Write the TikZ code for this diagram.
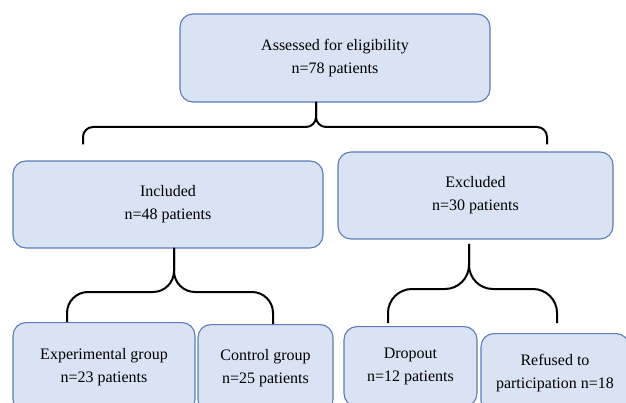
\documentclass[tikz,border=0pt]{standalone}
\usepackage{fontspec}
\setmainfont{Liberation Serif}
\definecolor{boxfill}{HTML}{DAE3F3}
\definecolor{boxline}{HTML}{5A7DBA}
\usepackage{tikz}
\usetikzlibrary{positioning,calc}

\begin{document}
\begin{tikzpicture}[
    x=1pt,y=-1pt,
    box/.style={draw=boxline,line width=1.1pt,rounded corners=13pt,fill=boxfill,
                inner sep=0pt,font={\fontsize{16}{23}\selectfont},align=center},
    brace/.style={draw=black,line width=2pt}
  ]
    \clip (0,0) rectangle (626,403);
    \node[box,minimum width=310pt,minimum height=88pt] (assess) at (335,58)
      {Assessed for eligibility\\n=78 patients};
    \node[box,minimum width=310pt,minimum height=87pt] (incl) at (168,204.5)
      {Included\\n=48 patients};
    \node[box,minimum width=275pt,minimum height=87pt] (excl) at (475.5,195.5)
      {Excluded\\n=30 patients};
    \node[box,anchor=north,minimum width=182pt,minimum height=90pt] (exp) at (104,322)
      {Experimental group\\n=23 patients};
    \node[box,anchor=north,minimum width=135pt,minimum height=88pt] (ctrl) at (265.5,324)
      {Control group\\n=25 patients};
    \node[box,anchor=north,minimum width=133pt,minimum height=80pt] (drop) at (410.5,326)
      {Dropout\\n=12 patients};
    \node[box,anchor=north,minimum width=148pt,minimum height=80pt] (refu) at (555,333)
      {Refused to\\participation n=18};
    % brace tips
    \coordinate (top) at (316,102);
    \coordinate (inc) at (174,248);
    \coordinate (exc) at (469,244);
    \draw[brace,rounded corners=10pt] (incl.north -| 83,0) ++(0,-16) |- (top |- 0,127) -- (top);
    \draw[brace,rounded corners=10pt] (top) -- (top |- 0,127) -| ($(excl.north -| 547,0)+(0,-7)$);
    \draw[brace,rounded corners=21pt] (exp.north -| 67,0) |- (inc |- 0,292) -- (inc);
    \draw[brace,rounded corners=21pt] (inc) -- (inc |- 0,292) -| (ctrl.north -| 273,0);
    \draw[brace,rounded corners=24pt] ($(drop.north -| 388,0)+(0,-3)$) |- (exc |- 0,289) -- (exc);
    \draw[brace,rounded corners=24pt] (exc) -- (exc |- 0,289) -| ($(refu.north -| 557,0)+(0,-10)$);
  \end{tikzpicture}
\end{document}
